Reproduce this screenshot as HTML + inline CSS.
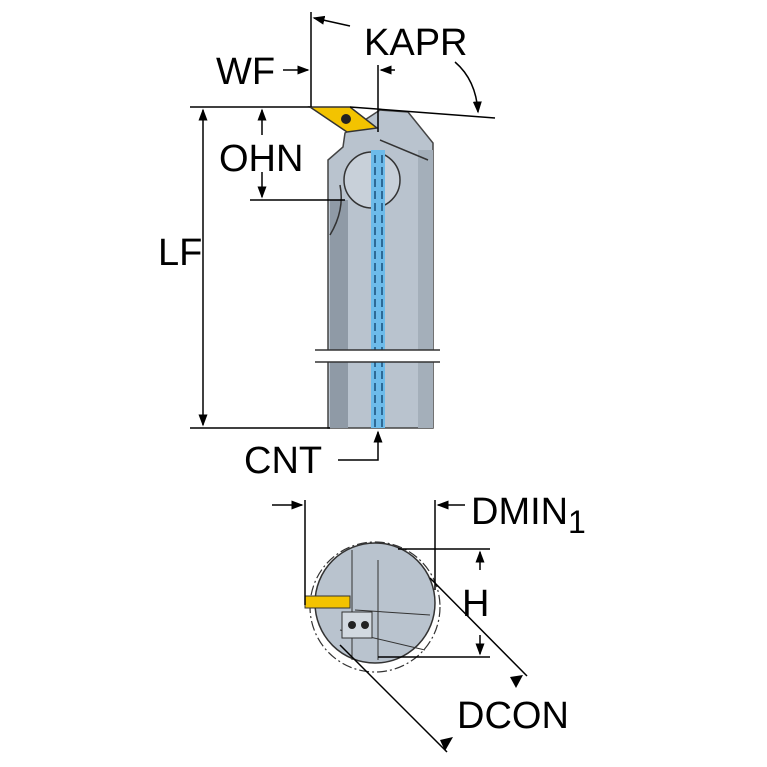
<!DOCTYPE html>
<html><head><style>body{margin:0;background:#fff}svg{display:block}text{font-family:"Liberation Sans",sans-serif;fill:#000}</style></head><body>
<svg width="767" height="767" viewBox="0 0 767 767" xmlns="http://www.w3.org/2000/svg">
<defs><marker id="a" markerWidth="8" markerHeight="8" refX="7" refY="4" orient="auto"><path d="M0,1 L8,4 L0,7z" fill="#000"/></marker></defs>
<g stroke="#000" stroke-width="2" fill="none">
<path d="M345,133 L380,110 L408,112 L433,143 L433,428 L328,428 L328,160 L343,147 Z" fill="#b9c3ce" stroke="#444" stroke-width="1.5"/>
<rect x="330" y="200" width="18" height="228" fill="#8f9aa6" stroke="none"/>
<rect x="418" y="150" width="15" height="278" fill="#a4afba" stroke="none"/>
<circle cx="372" cy="180" r="28" fill="#c8d0d9" stroke="#333" stroke-width="1.5"/>
<path d="M330,235 Q345,210 340,185" stroke="#333" stroke-width="1.5"/>
<path d="M380,140 L428,160" stroke="#333" stroke-width="1.5"/>
<rect x="371" y="150" width="14" height="278" fill="#6dbbea" stroke="none"/>
<path d="M375,155 L375,428 M382,155 L382,428" stroke="#1a4f7a" stroke-width="1.5" stroke-dasharray="8,4"/>
<rect x="315" y="350" width="125" height="12" fill="#fff" stroke="none"/>
<path d="M315,350 L440,350 M315,362 L440,362" stroke="#333" stroke-width="1.5"/>
<polygon points="310,107 350,107 377,128 347,132" fill="#f3c300" stroke="#333" stroke-width="1.5"/>
<circle cx="346" cy="119" r="5" fill="#222" stroke="none"/>
<path d="M190,107 L310,107 M350,107 L495,118 M190,428 L330,428 M250,200 L345,200" stroke-width="1.5"/>
<path d="M203,270 L203,110" marker-end="url(#a)" stroke-width="1.5"/>
<path d="M203,270 L203,425" marker-end="url(#a)" stroke-width="1.5"/>
<path d="M262,135 L262,110" marker-end="url(#a)" stroke-width="1.5"/>
<path d="M262,172 L262,197" marker-end="url(#a)" stroke-width="1.5"/>
<path d="M311,12 L311,107" stroke-width="1.5"/>
<path d="M350,26 L314,18" marker-end="url(#a)" stroke-width="1.5"/>
<path d="M283,70 L308,70" marker-end="url(#a)" stroke-width="1.5"/>
<path d="M378,65 L378,132" stroke-width="1.5"/>
<path d="M395,70 L381,70" marker-end="url(#a)" stroke-width="1.5"/>
<path d="M455,62 Q476,80 478,112" marker-end="url(#a)" stroke-width="1.5"/>
<path d="M338,460 L378,460 L378,432" marker-end="url(#a)" stroke-width="1.5"/>
<circle cx="375" cy="607" r="65" stroke="#333" stroke-width="1.2" stroke-dasharray="10,3,2,3"/>
<circle cx="375" cy="603" r="60" fill="#b9c3ce" stroke="#333" stroke-width="1.5"/>
<path d="M352,550 L352,660 M378,560 L378,660 M355,610 L430,615 M340,630 L425,650" stroke="#333" stroke-width="1"/>
<rect x="342" y="612" width="30" height="26" fill="#d2d9e0" stroke="#333" stroke-width="1"/>
<circle cx="352" cy="625" r="4" fill="#222" stroke="none"/><circle cx="365" cy="625" r="4" fill="#222" stroke="none"/>
<rect x="305" y="596" width="45" height="12" fill="#f3c300" stroke="#333" stroke-width="1"/>
<path d="M305,500 L305,605 M435,500 L435,590 M398,549 L490,549 M378,657 L490,657" stroke-width="1.5"/>
<path d="M272,505 L302,505" marker-end="url(#a)" stroke-width="1.5"/>
<path d="M465,505 L438,505" marker-end="url(#a)" stroke-width="1.5"/>
<path d="M480,570 L480,552" marker-end="url(#a)" stroke-width="1.5"/>
<path d="M480,635 L480,654" marker-end="url(#a)" stroke-width="1.5"/>
<path d="M430,578 L527,676 M340,645 L447,752" stroke-width="1.5"/>
</g>
<path d="M523,675 L510,677 L516,688 Z" fill="#000"/>
<path d="M453,737 L440,740 L445,751 Z" fill="#000"/>
<text x="216" y="84" font-size="38">WF</text>
<text x="364" y="55" font-size="38">KAPR</text>
<text x="219" y="171" font-size="38">OHN</text>
<text x="158" y="265" font-size="38">LF</text>
<text x="244" y="473" font-size="38">CNT</text>
<text x="471" y="524" font-size="38">DMIN</text>
<text x="568" y="533" font-size="32">1</text>
<text x="462" y="616" font-size="38">H</text>
<text x="457" y="728" font-size="38">DCON</text>
</svg>
</body></html>
